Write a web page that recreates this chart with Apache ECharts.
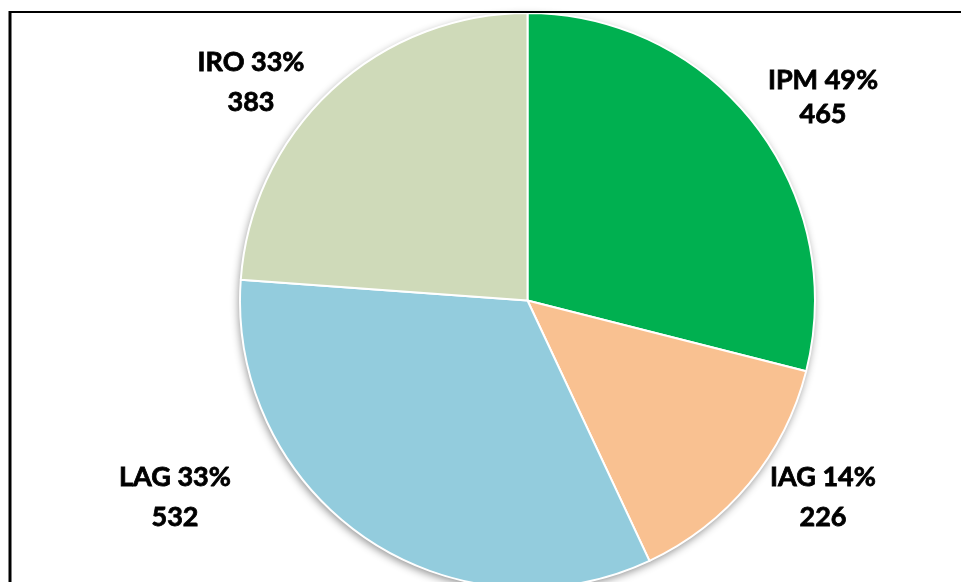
<!DOCTYPE html>
<html>
<head>
<meta charset="utf-8">
<script src="https://cdn.jsdelivr.net/npm/echarts@6/dist/echarts.min.js"></script>
<style>
html,body{margin:0;padding:0;background:#fff;}
#chart{width:961px;height:582px;}
</style>
</head>
<body>
<div id="chart"></div>
<script>
// Data
const categories = ['IPM', 'IAG', 'LAG', 'IRO'];
const values = [465, 226, 532, 383];
const percentLabels = ['49%', '14%', '33%', '33%'];

// Styles (not data)
const colors = ['#00B050', '#F9C191', '#93CCDD', '#CFDAB9'];
const labelPos = [
  {x: 823, y: 97, lh: 34},
  {x: 823, y: 497, lh: 40},
  {x: 175, y: 497, lh: 40},
  {x: 251, y: 82, lh: 40}
];

const chart = echarts.init(document.getElementById('chart'), null, {renderer: 'canvas'});

const pieData = categories.map((c, i) => ({
  name: c,
  value: values[i],
  itemStyle: {color: colors[i]},
  label: {lineHeight: labelPos[i].lh}
}));

const option = {
  animation: false,
  backgroundColor: '#ffffff',
  graphic: [
    {type: 'line', shape: {x1: 10, y1: 11, x2: 10, y2: 582}, style: {stroke: '#000', lineWidth: 3}, z: 100},
    {type: 'line', shape: {x1: 9, y1: 12, x2: 961, y2: 12}, style: {stroke: '#000', lineWidth: 2}, z: 100}
  ],
  series: [
    {
      type: 'pie',
      silent: true,
      center: [527.5, 300.5],
      radius: 287.5,
      z: 1,
      label: {show: false},
      labelLine: {show: false},
      itemStyle: {
        color: '#ffffff',
        shadowBlur: 8,
        shadowOffsetX: -1,
        shadowOffsetY: 3,
        shadowColor: 'rgba(0,0,0,0.45)'
      },
      data: [{value: 1, name: 'bg'}]
    },
    {
      type: 'pie',
      center: [527.5, 300.5],
      radius: 287.5,
      startAngle: 90,
      clockwise: true,
      z: 2,
      itemStyle: {borderColor: '#ffffff', borderWidth: 2},
      label: {
        show: true,
        position: 'outside',
        fontFamily: 'Lato',
        fontWeight: 'bold',
        fontSize: 27,
        color: '#000000',
        textBorderColor: '#000000',
        textBorderWidth: 0.8,
        align: 'center',
        formatter: p => p.name + ' ' + percentLabels[p.dataIndex] + '\n' + p.value
      },
      labelLine: {show: false},
      labelLayout: function (params) {
        const lp = labelPos[params.dataIndex];
        return {x: lp.x, y: lp.y, align: 'center', verticalAlign: 'middle', hideOverlap: false};
      },
      emphasis: {disabled: true},
      data: pieData
    }
  ]
};
chart.setOption(option);
</script>
</body>
</html>
